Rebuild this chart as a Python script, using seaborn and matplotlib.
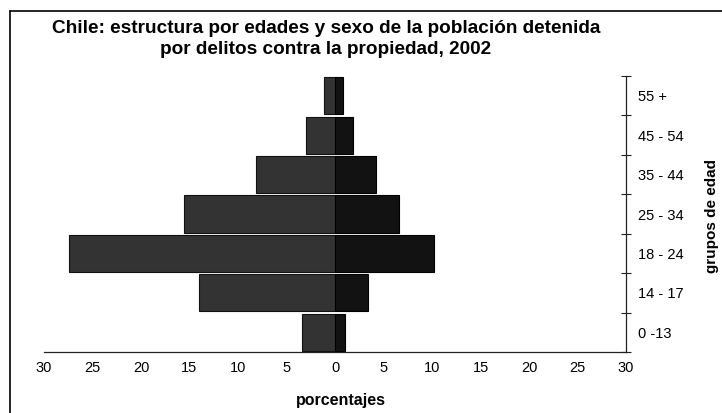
import matplotlib
matplotlib.use("Agg")
import matplotlib.pyplot as plt
import pandas as pd
import seaborn as sns
from matplotlib.lines import Line2D

# Datos (porcentajes del total de detenidos)
grupos = ["55 +", "45 - 54", "35 - 44", "25 - 34", "18 - 24", "14 - 17", "0 -13"]
hombres = [1.1, 3.0, 8.1, 15.6, 27.4, 14.0, 3.4]
mujeres = [0.8, 1.9, 4.2, 6.6, 10.2, 3.4, 1.0]
ticks_x = [-30, -25, -20, -15, -10, -5, 0, 5, 10, 15, 20, 25, 30]

df = pd.DataFrame({"grupo": grupos,
                   "hombres": [-v for v in hombres],
                   "mujeres": mujeres})

sns.set_theme(style="white")
plt.rcParams['font.family'] = ['Liberation Sans', 'DejaVu Sans']
plt.rcParams['text.color'] = 'black'
plt.rcParams['xtick.color'] = 'black'
plt.rcParams['ytick.color'] = 'black'
plt.rcParams['axes.labelcolor'] = 'black'

fig = plt.figure(figsize=(7.22, 4.13), dpi=100)
ax = fig.add_axes([44 / 722, 61 / 413, (626 - 44) / 722, (352 - 76) / 413])

sns.barplot(data=df, y="grupo", x="hombres", order=grupos, color="#333333",
            width=0.94, edgecolor="#111111", linewidth=0.8, saturation=1, ax=ax)
sns.barplot(data=df, y="grupo", x="mujeres", order=grupos, color="#121212",
            width=0.94, edgecolor="#000000", linewidth=0.8, saturation=1, ax=ax)

ax.set_xlim(-30, 30)
ax.set_ylim(len(grupos) - 0.5, -0.5)

# eje x con valores absolutos
ax.set_xticks(ticks_x)
ax.set_xticklabels([str(abs(t)) for t in ticks_x], fontsize=10.5)
ax.tick_params(axis="x", direction="inout", length=7, width=0.8, color="#222222", pad=3)

# eje y a la derecha, marcas entre categorias
ax.yaxis.tick_right()
ax.set_yticks([i - 0.5 for i in range(len(grupos) + 1)])
ax.set_yticklabels([""] * (len(grupos) + 1))
ax.set_yticks(range(len(grupos)), minor=True)
ax.set_yticklabels(grupos, minor=True, fontsize=10.5)
ax.tick_params(axis="y", which="major", direction="inout", length=7, width=0.8, color="#222222")
ax.tick_params(axis="y", which="minor", length=0, pad=9)

for s in ["top", "left"]:
    ax.spines[s].set_visible(False)
for s in ["bottom", "right"]:
    ax.spines[s].set_color("#222222")
    ax.spines[s].set_linewidth(0.9)

ax.set_xlabel("")
ax.set_ylabel("")
ax.grid(False)

fig.text(341 / 722, 1 - 400 / 413, "porcentajes",
         ha="center", va="center", fontsize=11.5, fontweight="bold")
fig.text(712 / 722, 1 - 216 / 413, "grupos de edad", rotation=90,
         ha="center", va="center", fontsize=11, fontweight="bold")

fig.text(326 / 722, 1 - 39 / 413,
         "Chile: estructura por edades y sexo de la población detenida\npor delitos contra la propiedad, 2002",
         ha="center", va="center", fontsize=13.7, fontweight="bold", linespacing=1.3)

# marco de la figura (solo bordes izquierdo y superior visibles)
fig.add_artist(Line2D([9.5 / 722, 9.5 / 722], [0, 1 - 10.5 / 413], transform=fig.transFigure,
                      color="black", linewidth=1.2))
fig.add_artist(Line2D([9.5 / 722, 1], [1 - 10.5 / 413, 1 - 10.5 / 413], transform=fig.transFigure,
                      color="black", linewidth=1.2))

fig.savefig("out.png", dpi=100)
